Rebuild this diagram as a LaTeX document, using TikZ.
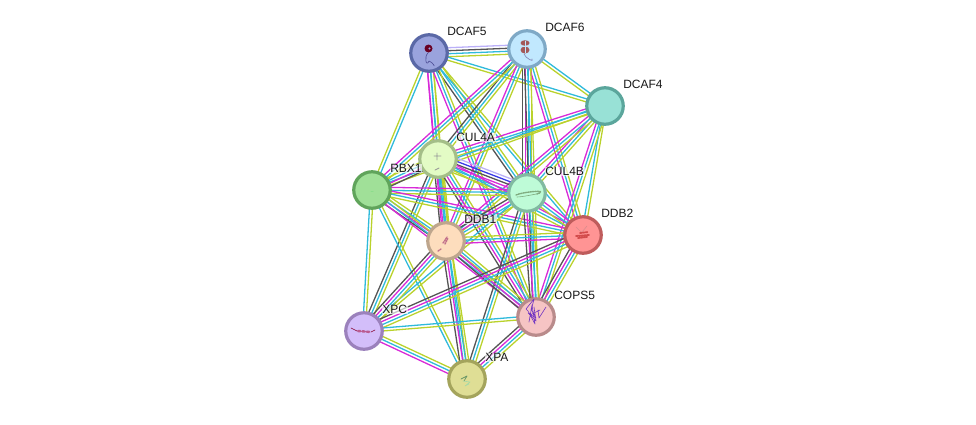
\documentclass[tikz,border=0pt]{standalone}
\usepackage{fontspec}
\setmainfont{Liberation Sans}
\usetikzlibrary{calc}
\pgfdeclarelayer{bg}
\pgfsetlayers{bg,main}
\definecolor{ec}{HTML}{2FBADB}
\definecolor{ey}{HTML}{BAD22C}
\definecolor{em}{HTML}{D82AD8}
\definecolor{ed}{HTML}{555555}
\definecolor{eb}{HTML}{3A3AE6}
\definecolor{el}{HTML}{BBB0F8}
\definecolor{gfive}{HTML}{9AA3DD}
\definecolor{gsix}{HTML}{C1E8FE}
\tikzset{
  evline/.style={line width=1.3pt},
  prot/.style n args={2}{circle,minimum size=36.5pt,inner sep=0pt,line width=3.2pt,draw=#2,fill=#1},
  lab/.style={anchor=west,font=\fontsize{12}{12}\selectfont,fill=white,fill opacity=.65,text opacity=1,inner sep=.6pt,text=black!90},
  gly/.style={line width=.6pt,line cap=round,line join=round},
}
\newcounter{bn}
\newcommand\bund[3]{%
  \setcounter{bn}{0}%
  \foreach \cc in {#3}{\global\addtocounter{bn}{1}}%
  \foreach \cc [count=\ii] in {#3}{%
    \pgfmathsetmacro\off{((\thebn+1)/2-\ii)*3}%
    \draw[evline,color=e\cc] ($(#1)!\off pt!90:(#2)$) -- ($(#2)!\off pt!-90:(#1)$);
  }%
}
\newcommand\prt[6]{%
  \definecolor{tf}{HTML}{#5}\definecolor{tb}{HTML}{#6}%
  \node[prot={tf}{tb}] (#1) at (#2,#3) {};
  \node[lab] (#1t) at ($(#1)+(17.5,-21.6)$) {#4};
}
\begin{document}
\begin{tikzpicture}[x=1pt,y=-1pt]
\useasboundingbox (0,0) rectangle (976,424);
\prt{DCAFf}{429}{53}{DCAF5}{9AA3DD}{5A68A6}
\prt{DCAFs}{527}{49}{DCAF6}{C1E8FE}{7FA9C6}
\prt{DCAFq}{605}{106}{DCAF4}{98E1D6}{5BA69C}
\prt{CULa}{438}{159}{CUL4A}{E3FBC5}{A4BE88}
\prt{RBX}{372}{190}{RBX1}{A0E098}{60A45B}
\prt{CULb}{527}{193}{CUL4B}{BEFBD7}{81BAA1}
\prt{DDBb}{583}{235}{DDB2}{FF9494}{BF5C5C}
\prt{DDBa}{446}{241}{DDB1}{FDDDBD}{BEA68D}
\prt{XPC}{364}{331}{XPC}{D3BEFA}{9B81BC}
\prt{COP}{536}{317}{COPS5}{F6C4C4}{B98B8B}
\prt{XPA}{467}{379}{XPA}{DFDE95}{A4A45C}
\begin{pgfonlayer}{bg}
\bund{DCAFf}{DCAFs}{l,d,c,y}
\bund{DCAFf}{DCAFq}{c,y}
\bund{DCAFs}{DCAFq}{c,y}
\bund{CULa}{DCAFf}{m,c,y}
\bund{DCAFf}{RBX}{c,y}
\bund{CULb}{DCAFf}{d,c,y}
\bund{DDBa}{DCAFf}{m,c,y}
\bund{DDBb}{DCAFf}{c,y}
\bund{COP}{DCAFf}{m,c,y}
\bund{CULa}{DCAFs}{d,c,y}
\bund{RBX}{DCAFs}{m,c,y}
\bund{CULb}{DCAFs}{d,m,c,y}
\bund{DDBa}{DCAFs}{m,c,y}
\bund{DDBb}{DCAFs}{m,c,y}
\bund{COP}{DCAFs}{d,c,y}
\bund{CULa}{DCAFq}{m,c,y}
\bund{RBX}{DCAFq}{c,y}
\bund{CULb}{DCAFq}{m,c,y}
\bund{DDBa}{DCAFq}{m,c,y}
\bund{DDBb}{DCAFq}{c,y}
\bund{COP}{DCAFq}{m,c,y}
\bund{CULa}{RBX}{d,m,c,y}
\bund{CULa}{CULb}{l,b,d,m,c,y}
\bund{DDBa}{CULa}{d,m,c,y}
\bund{CULa}{DDBb}{m,c,y}
\bund{XPC}{CULa}{d,c,y}
\bund{COP}{CULa}{d,m,c,y}
\bund{XPA}{CULa}{c,y}
\bund{RBX}{CULb}{m,c,y}
\bund{DDBa}{RBX}{d,m,c,y}
\bund{RBX}{DDBb}{m,c,y}
\bund{XPC}{RBX}{c,y}
\bund{COP}{RBX}{m,c,y}
\bund{XPA}{RBX}{c,y}
\bund{DDBa}{CULb}{d,m,c,y}
\bund{CULb}{DDBb}{m,c,y}
\bund{XPC}{CULb}{c,y}
\bund{COP}{CULb}{d,m,c,y}
\bund{XPA}{CULb}{d,c,y}
\bund{DDBb}{DDBa}{m,c,y}
\bund{XPC}{DDBa}{d,m,c,y}
\bund{COP}{DDBa}{d,m,c,y}
\bund{XPA}{DDBa}{d,m,c,y}
\bund{XPC}{DDBb}{d,m,c,y}
\bund{COP}{DDBb}{d,m,c,y}
\bund{XPC}{COP}{c,y}
\bund{XPA}{XPC}{m,c,y}
\bund{XPA}{COP}{d,m,c,y}
\end{pgfonlayer}
% protein thumbnails
\fill[color=black!45!purple] (DCAFf)++(-.5,-4.5) circle (4);
\fill[color=gfive] (DCAFf)++(.5,-4.5) circle (1.1);
\draw[gly,color=black!60!blue!70] (DCAFf)++(-1,0) .. controls +(-4,3) and +(-3,7) .. +(1,8) .. controls +(4,1) and +(3,5) .. +(5,11);
\fill[color=red!45!black!65] (DCAFs)++(-2,-6) ellipse (4.5 and 2.8) (DCAFs)++(-2,1) ellipse (4.5 and 3.5);
\draw[gly,color=gsix,line width=.8pt] (DCAFs)++(-4,-2.5) -- +(6,0) (DCAFs)++(-2,-8) -- +(0,12);
\draw[gly,color=blue!40!black!50] (DCAFs)++(-3,5) .. controls +(1,4) and +(3,4) .. +(8,5);
\draw[gly,line width=.9pt,color=black!40] (CULa)++(-4,-3) -- +(7,0) (CULa)++(-1,-6) -- +(0,7) (CULa)++(-3,11) -- +(4,-2);
\draw[gly,line width=1pt,color=black!30!green!45] (RBX)++(-1,1) -- +(2,0);
\draw[gly,line width=1.4pt,color=green!35!black!50,densely dotted] (CULb)++(-11,2) .. controls +(6,-3) and +(14,-5) .. +(21,-1);
\draw[gly,color=green!35!black!50] (CULb)++(-10,4) .. controls +(7,0) and +(14,-3) .. +(19,-3);
\draw[gly,line width=1.8pt,color=red!75!black!70,densely dotted] (DDBb)++(-7,1) -- +(13,-1) (DDBb)++(-5,3) -- +(9,-1) (DDBb)++(-3,-2) -- +(8,-1);
\draw[gly,color=red!50!gray!60] (DDBb)++(-1,-3) -- +(5,-6) (DDBb)++(-2,-3) -- +(-5,-5);
\draw[gly,line width=1.4pt,color=purple!60!gray!70,densely dotted] (DDBa)++(-3,2) -- +(4,-6) (DDBa)++(-1,3) -- +(3,-6) (DDBa)++(-8,10) -- +(3,-2);
\draw[gly,line width=2.4pt,color=magenta!65!black!80,dotted] (XPC)++(-6,0) -- +(13,1);
\draw[gly,color=purple!70!black] (XPC)++(-13,-3) -- +(6,3) (XPC)++(7,1) -- +(4,-2);
\draw[gly,color=blue!60!purple!80] (COP)++(-8,-6) -- +(7,13) -- +(4,-6) -- +(1,11) -- +(3,0) -- +(6,-12) -- +(-2,-2) -- cycle;
\draw[gly,color=blue!60!purple!80] (COP)++(-5,-8) -- +(5,9) -- +(-3,4) (COP)++(2,-7) -- +(1,8) -- +(8,-3) (COP)++(-6,-2) -- +(10,-5) (COP)++(-7,-3) -- +(7,7) -- +(5,-7);
\draw[gly,color=green!30!black!60,line width=.7pt] (XPA)++(-6,0) -- +(6,-3) -- +(3,2);
\draw[gly,color=green!40!gray!50] (XPA)++(-4,2) -- +(7,1) -- +(2,5) -- +(6,3);
\end{tikzpicture}
\end{document}
